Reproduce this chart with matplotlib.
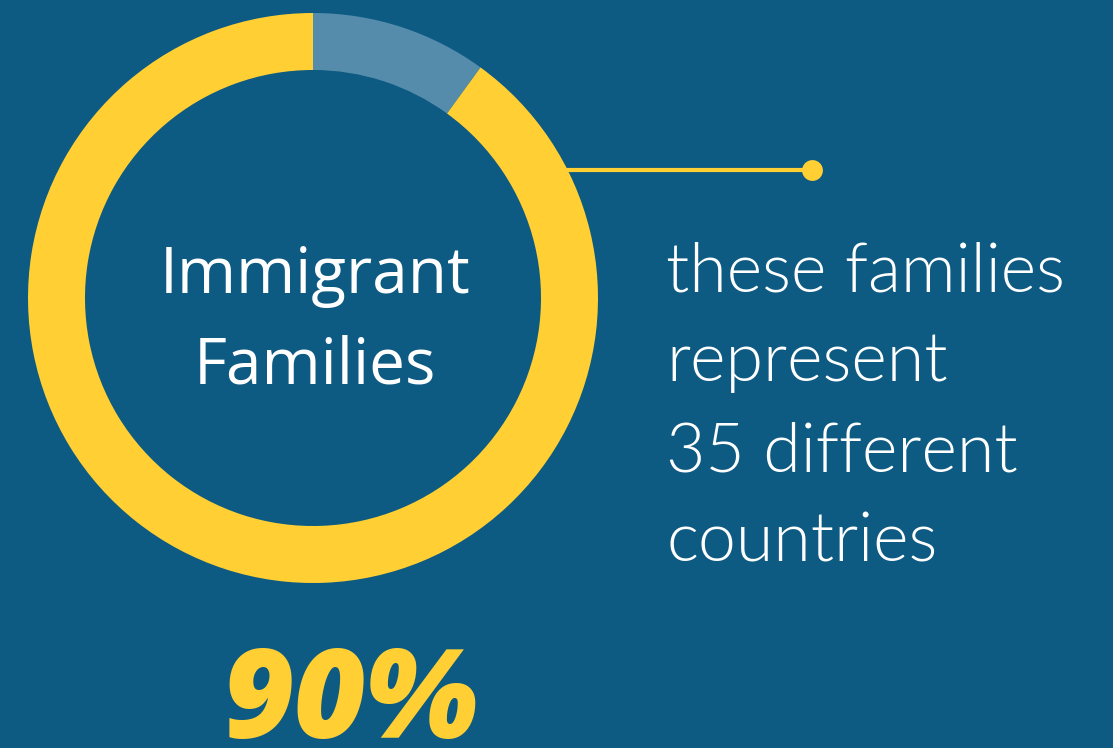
import matplotlib
matplotlib.use("Agg")
import matplotlib.pyplot as plt

# Data
segment_labels = ["Other", "Immigrant Families"]
segment_values = [10, 90]
segment_colors = ["#558CAB", "#FFCF33"]
center_lines = ["Immigrant", "Families"]
big_value = "90%"
side_text = ["these families", "represent", "35 different", "countries"]

BG = "#0D5A82"
YELLOW = "#FFCF33"

W, H = 1113, 748
fig = plt.figure(figsize=(W / 100, H / 100), dpi=100, facecolor=BG)
ax = fig.add_axes([0, 0, 1, 1])
ax.set_facecolor(BG)

cx, cy, R = 313, H - 298, 285
ax.pie(segment_values, colors=segment_colors, startangle=90, counterclock=False,
       radius=R, center=(cx, cy), frame=True,
       wedgeprops=dict(width=57, linewidth=0))

for i, line in enumerate(center_lines):
    ax.text(cx + 2, H - (293 + 90 * i), line, ha="center", va="baseline", color="white",
            fontsize=46, family="Open Sans", fontweight=400)

# connector line
ax.plot([560, 812], [H - 170, H - 170], color=YELLOW, lw=3, solid_capstyle="butt")
ax.plot([812], [H - 170], "o", color=YELLOW, markersize=15, markeredgewidth=0)

for i, line in enumerate(side_text):
    ax.text(666, H - (291 + 90 * i), line, ha="left", va="baseline", color="white",
            fontsize=49, family="Lato", fontweight=300)

ax.text(351, H - 738, big_value, ha="center", va="baseline", color=YELLOW,
        fontsize=89, family="Open Sans", fontweight="heavy", style="italic")

ax.set_xlim(0, W)
ax.set_ylim(0, H)
ax.set_aspect("auto")
ax.set_axis_off()

fig.savefig("out.png", dpi=100, facecolor=BG)
